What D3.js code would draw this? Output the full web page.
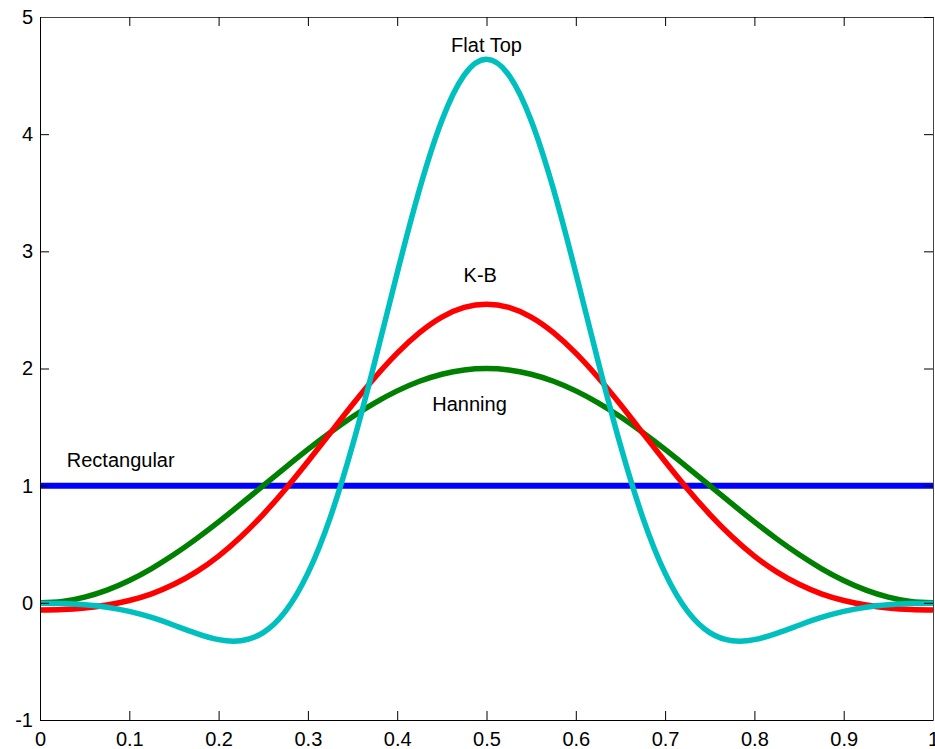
<!DOCTYPE html>
<html>
<head>
<meta charset="utf-8">
<script src="https://cdn.jsdelivr.net/npm/d3@7"></script>
<style>
  body { margin: 0; background: #fff; }
  svg text { font-family: "Liberation Sans", Arial, sans-serif; font-size: 20px; fill: #000; }
</style>
</head>
<body>
<svg width="935" height="749"></svg>
<script>
// sample positions along the window
var xs = [0, 0.025, 0.05, 0.075, 0.1, 0.125, 0.15, 0.175, 0.2, 0.225,
          0.25, 0.275, 0.3, 0.325, 0.35, 0.375, 0.4, 0.425, 0.45, 0.475,
          0.5, 0.525, 0.55, 0.575, 0.6, 0.625, 0.65, 0.675, 0.7, 0.725,
          0.75, 0.775, 0.8, 0.825, 0.85, 0.875, 0.9, 0.925, 0.95, 0.975, 1];

var rectangular = [1, 1, 1, 1, 1, 1, 1, 1, 1, 1,
                   1, 1, 1, 1, 1, 1, 1, 1, 1, 1,
                   1, 1, 1, 1, 1, 1, 1, 1, 1, 1,
                   1, 1, 1, 1, 1, 1, 1, 1, 1, 1, 1];

var hanning = [0, 0.012, 0.049, 0.109, 0.191, 0.293, 0.412, 0.546, 0.691, 0.844,
               1.0, 1.156, 1.309, 1.454, 1.588, 1.707, 1.809, 1.891, 1.951, 1.988,
               2.0, 1.988, 1.951, 1.891, 1.809, 1.707, 1.588, 1.454, 1.309, 1.156,
               1.0, 0.844, 0.691, 0.546, 0.412, 0.293, 0.191, 0.109, 0.049, 0.012, 0];

var kb = [-0.061, -0.057, -0.044, -0.019, 0.020, 0.077, 0.158, 0.264, 0.399, 0.564,
          0.756, 0.972, 1.206, 1.449, 1.692, 1.923, 2.131, 2.306, 2.439, 2.521,
          2.549, 2.521, 2.439, 2.306, 2.131, 1.923, 1.692, 1.449, 1.206, 0.972,
          0.756, 0.564, 0.399, 0.264, 0.158, 0.077, 0.020, -0.019, -0.044, -0.057, -0.061];

var flatTop = [-0.003, -0.006, -0.016, -0.037, -0.073, -0.125, -0.191, -0.260, -0.314, -0.323,
               -0.254, -0.071, 0.253, 0.728, 1.344, 2.060, 2.815, 3.529, 4.117, 4.504,
               4.639, 4.504, 4.117, 3.529, 2.815, 2.060, 1.344, 0.728, 0.253, -0.071,
               -0.254, -0.323, -0.314, -0.260, -0.191, -0.125, -0.073, -0.037, -0.016, -0.006, -0.003];

var xTicks = [0, 0.1, 0.2, 0.3, 0.4, 0.5, 0.6, 0.7, 0.8, 0.9, 1];
var xTickLabels = ["0", "0.1", "0.2", "0.3", "0.4", "0.5", "0.6", "0.7", "0.8", "0.9", "1"];
var yTicks = [-1, 0, 1, 2, 3, 4, 5];
var yTickLabels = ["-1", "0", "1", "2", "3", "4", "5"];

var seriesNames = ["Rectangular", "Hanning", "K-B", "Flat Top"];

var svg = d3.select("svg");
var marginLeft = 40, marginTop = 17, width = 893, height = 703;

var x = d3.scaleLinear().domain([0, 1]).range([0, width]);
var y = d3.scaleLinear().domain([-1, 5]).range([height, 0]);

var g = svg.append("g").attr("transform", "translate(" + marginLeft + "," + marginTop + ")");

g.append("clipPath").attr("id", "clip")
  .append("rect").attr("width", width).attr("height", height);

// lines
var series = [
  { name: seriesNames[0], values: rectangular, color: "#0000ff", w: 6 },
  { name: seriesNames[1], values: hanning, color: "#008000", w: 5.5 },
  { name: seriesNames[2], values: kb, color: "#ff0000", w: 5.5 },
  { name: seriesNames[3], values: flatTop, color: "#00bfbf", w: 5.5 }
];

var line = d3.line()
  .x(function (d) { return x(d[0]); })
  .y(function (d) { return y(d[1]); })
  .curve(d3.curveNatural);

var plot = g.append("g").attr("clip-path", "url(#clip)");
series.forEach(function (s) {
  plot.append("path")
    .datum(xs.map(function (v, i) { return [v, s.values[i]]; }))
    .attr("d", line)
    .attr("fill", "none")
    .attr("stroke", s.color)
    .attr("stroke-width", s.w);
});

// axes, MATLAB style with inward ticks
var tickLen = 9;
var fmtX = function (d) { return xTickLabels[xTicks.indexOf(d)]; };
var fmtY = function (d) { return yTickLabels[yTicks.indexOf(d)]; };

var bottomAxis = g.append("g").attr("transform", "translate(0," + height + ")")
  .call(d3.axisBottom(x).tickValues(xTicks).tickFormat(fmtX)
    .tickSizeInner(-tickLen).tickSizeOuter(0).tickPadding(12));
var leftAxis = g.append("g")
  .call(d3.axisLeft(y).tickValues(yTicks).tickFormat(fmtY)
    .tickSizeInner(-tickLen).tickSizeOuter(0).tickPadding(7));
var topAxis = g.append("g")
  .call(d3.axisTop(x).tickValues(xTicks).tickFormat("")
    .tickSizeInner(-tickLen).tickSizeOuter(0));
var rightAxis = g.append("g").attr("transform", "translate(" + width + ",0)")
  .call(d3.axisRight(y).tickValues(yTicks).tickFormat("")
    .tickSizeInner(-tickLen).tickSizeOuter(0));

[bottomAxis, leftAxis, topAxis, rightAxis].forEach(function (a) {
  a.attr("font-family", null).attr("font-size", null);
  a.selectAll(".tick line").attr("stroke", "#000");
  a.select(".domain").attr("stroke", "#000");
});
topAxis.select(".domain").attr("stroke", "#444");
rightAxis.select(".domain").attr("stroke", "#444");

// curve labels
var labels = [
  { text: "Flat Top", x: 0.5, y: 4.70, anchor: "middle" },
  { text: "K-B", x: 0.493, y: 2.735, anchor: "middle" },
  { text: "Hanning", x: 0.481, y: 1.64, anchor: "middle" },
  { text: "Rectangular", x: 0.03, y: 1.16, anchor: "start" }
];
g.selectAll(".lbl").data(labels).enter().append("text")
  .attr("class", "lbl")
  .attr("x", function (d) { return x(d.x); })
  .attr("y", function (d) { return y(d.y); })
  .attr("text-anchor", function (d) { return d.anchor; })
  .text(function (d) { return d.text; });
</script>
</body>
</html>
